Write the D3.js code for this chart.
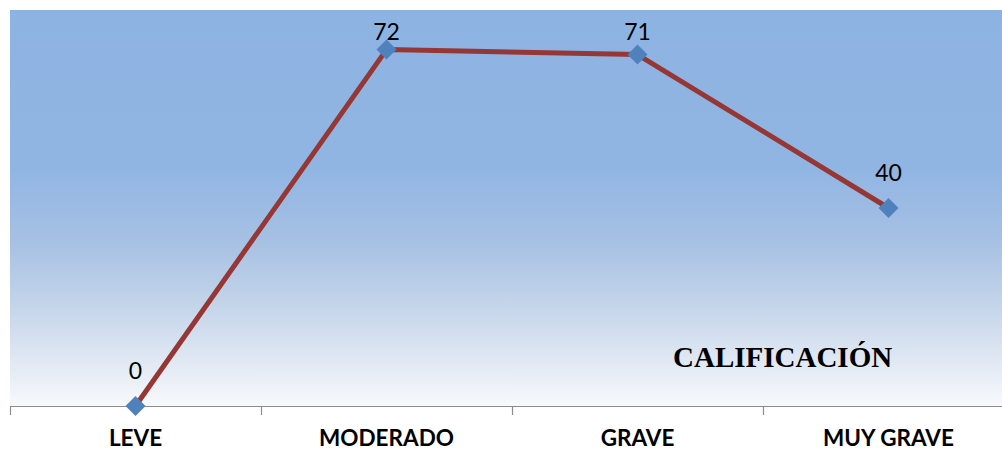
<!DOCTYPE html>
<html><head><meta charset="utf-8">
<script src="https://cdn.jsdelivr.net/npm/d3@7"></script>
<style>html,body{margin:0;padding:0;background:#fff;overflow:hidden}</style>
</head><body><svg id="c" width="1002" height="451"></svg>
<script>
const categories = ["LEVE", "MODERADO", "GRAVE", "MUY GRAVE"];
const values = [0, 72, 71, 40];
const title = "CALIFICACIÓN";

(function () {
const svg = d3.select("#c");
const mLeft = 10, mTop = 10, mBottom = 406, plotRight = 1002, scaleRight = 1014;
const x = d3.scaleBand().domain(categories).range([mLeft, scaleRight]);
const y = d3.scaleLinear().domain([0, 80]).range([mBottom, mTop]);

const defs = svg.append("defs");
const g = defs.append("linearGradient").attr("id", "bg").attr("x1", 0).attr("y1", 0).attr("x2", 0).attr("y2", 1);
[[0, "#8db3e2"], [0.4, "#91b5e3"], [0.58, "#a6c0e3"], [0.75, "#c5d5ea"], [0.9, "#e3eaf4"], [1, "#f7f9fc"]]
  .forEach(([o, c]) => g.append("stop").attr("offset", o).attr("stop-color", c));

svg.append("rect").attr("x", mLeft).attr("y", mTop).attr("width", plotRight - mLeft).attr("height", mBottom - mTop).attr("fill", "url(#bg)");

const axis = d3.axisBottom(x).tickSize(0).tickPadding(0).tickFormat("");
const ax = svg.append("g").attr("transform", `translate(0,${mBottom})`).call(axis);
ax.select(".domain").remove();
ax.append("line").attr("x1", mLeft).attr("x2", plotRight).attr("y1", 0.5).attr("y2", 0.5).attr("stroke", "#8c8c8c").attr("stroke-width", 1.2);
const bounds = categories.map(c => x(c)).concat([x(categories[categories.length-1]) + x.bandwidth()]);
ax.selectAll(".bt").data(bounds.filter(b => b <= plotRight)).enter().append("line")
  .attr("x1", d => Math.round(d) + 0.5).attr("x2", d => Math.round(d) + 0.5).attr("y1", 0).attr("y2", 9)
  .attr("stroke", "#8c8c8c").attr("stroke-width", 1.2);
ax.selectAll(".cl").data(categories).enter().append("text")
  .attr("x", d => x(d) + x.bandwidth() / 2).attr("y", 40)
  .attr("text-anchor", "middle").attr("font-family", "Lato, 'Open Sans', sans-serif").attr("font-weight", "bold")
  .attr("font-size", 22.5).attr("fill", "#000").text(d => d);

const cx = d => x(d) + x.bandwidth() / 2;
const line = d3.line().x((d, i) => cx(categories[i])).y(d => y(d));
svg.append("path").datum(values).attr("d", line).attr("fill", "none").attr("stroke", "#953735").attr("stroke-width", 5).attr("stroke-linejoin", "round");

svg.selectAll(".m").data(values).enter().append("path")
  .attr("d", d3.symbol().type(d3.symbolSquare).size(200))
  .attr("transform", (d, i) => `translate(${cx(categories[i])},${y(d)}) rotate(45)`)
  .attr("fill", "#4f81bd");

svg.selectAll(".dl").data(values).enter().append("text")
  .attr("x", (d, i) => cx(categories[i])).attr("y", d => Math.max(y(d) - 27, 40))
  .attr("text-anchor", "middle").attr("font-family", "Lato, 'Open Sans', sans-serif")
  .attr("font-size", 23).attr("fill", "#000").text(d => d);

svg.append("text").attr("x", 673).attr("y", 367).attr("font-family", "'Liberation Serif', serif").attr("font-weight", "bold")
  .attr("font-size", 29).attr("fill", "#000").text(title);
})();
</script></body></html>
